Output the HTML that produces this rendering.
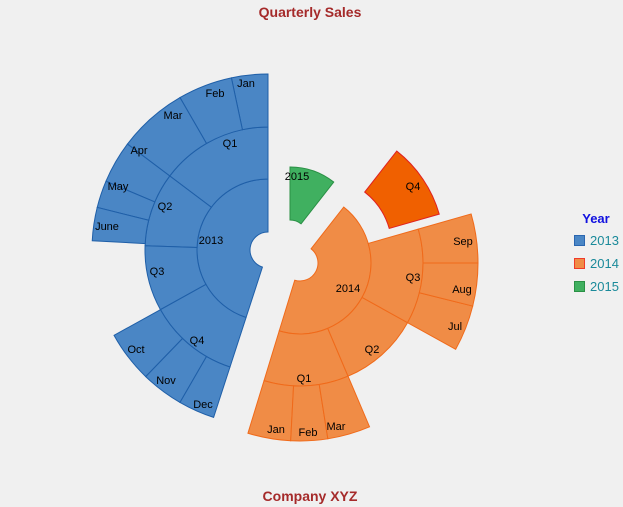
<!DOCTYPE html>
<html><head><style>
html,body{margin:0;padding:0;background:#f0f0f0;}
svg{display:block;font-family:"Liberation Sans",Arial,sans-serif;}
</style></head><body>
<svg id="s" width="623" height="507" xmlns="http://www.w3.org/2000/svg">
<rect width="623" height="507" fill="#f0f0f0"/>
<g id="g"></g>
<text x="310" y="17" text-anchor="middle" font-size="14" font-weight="bold" fill="#a52a2a">Quarterly Sales</text>
<text x="310" y="501" text-anchor="middle" font-size="14" font-weight="bold" fill="#a52a2a">Company XYZ</text>
<text x="596" y="223" text-anchor="middle" font-size="13" font-weight="bold" fill="#1010e0">Year</text>
<rect x="574.5" y="235.5" width="10" height="10" fill="#4a86c5" stroke="#2a66b0"/>
<rect x="574.5" y="258.5" width="10" height="10" fill="#f08c46" stroke="#f03a2a"/>
<rect x="574.5" y="281.5" width="10" height="10" fill="#40b060" stroke="#2a9045"/>
<text x="590" y="245" font-size="13" fill="#1a8a9a">2013</text>
<text x="590" y="268" font-size="13" fill="#1a8a9a">2014</text>
<text x="590" y="291" font-size="13" fill="#1a8a9a">2015</text>
<g font-size="11" fill="#000" text-anchor="middle">
<text x="246" y="87">Jan</text>
<text x="215" y="97">Feb</text>
<text x="173" y="119">Mar</text>
<text x="139" y="154">Apr</text>
<text x="118" y="190">May</text>
<text x="107" y="230">June</text>
<text x="136" y="353">Oct</text>
<text x="166" y="384">Nov</text>
<text x="203" y="408">Dec</text>
<text x="230" y="147">Q1</text>
<text x="165" y="210">Q2</text>
<text x="157" y="275">Q3</text>
<text x="197" y="344">Q4</text>
<text x="211" y="244">2013</text>
<text x="348" y="292">2014</text>
<text x="304" y="382">Q1</text>
<text x="372" y="353">Q2</text>
<text x="413" y="281">Q3</text>
<text x="413" y="190">Q4</text>
<text x="276" y="433">Jan</text>
<text x="308" y="436">Feb</text>
<text x="336" y="430">Mar</text>
<text x="455" y="330">Jul</text>
<text x="462" y="293">Aug</text>
<text x="463" y="245">Sep</text>
<text x="297" y="180">2015</text>
</g>
</svg>
<script>
function P(cx,cy,r,t){t=t*Math.PI/180;return [cx-r*Math.sin(t),cy-r*Math.cos(t)];}
function seg(c,r0,r1,t1,t2){
 var a=P(c[0],c[1],r1,t1),b=P(c[0],c[1],r1,t2),d=P(c[0],c[1],r0,t2),e=P(c[0],c[1],r0,t1);
 var L=(t2-t1)>180?1:0;
 return "M"+a+"A"+r1+","+r1+" 0 "+L+" 0 "+b+"L"+d+"A"+r0+","+r0+" 0 "+L+" 1 "+e+"Z";
}
var h="";
function add(c,r0,r1,t1,t2,f,s){h+='<path d="'+seg(c,r0,r1,t1,t2)+'" fill="'+f+'" stroke="'+s+'" stroke-width="1"/>';}
var c13=[268,250],B="#4a86c5",BS="#1f5fa8";
add(c13,18,71,0,162,B,BS);
add(c13,71,123,0,53,B,BS);add(c13,71,123,53,88,B,BS);add(c13,71,123,88,119,B,BS);add(c13,71,123,119,162,B,BS);
[[0,12],[12,30],[30,53],[53,67],[67,76],[76,87],[119,136],[136,150],[150,162]].forEach(function(m){add(c13,123,176,m[0],m[1],B,BS);});
var c14=[300,263],O="#f08c46",OS="#f06a1a";
add(c14,18,71,163,322,O,OS);
add(c14,71,123,163,203,O,OS);add(c14,71,123,203,241,O,OS);add(c14,71,123,241,286,O,OS);
[[163,177],[177,189],[189,203],[241,256],[256,270],[270,286]].forEach(function(m){add(c14,123,178,m[0],m[1],O,OS);});
add([321,248],71,123,286,322,"#f06000","#e02020");
add([290,238],18,71,322,360,"#40b060","#2a9045");
document.getElementById("g").innerHTML=h;
</script>
</body></html>
